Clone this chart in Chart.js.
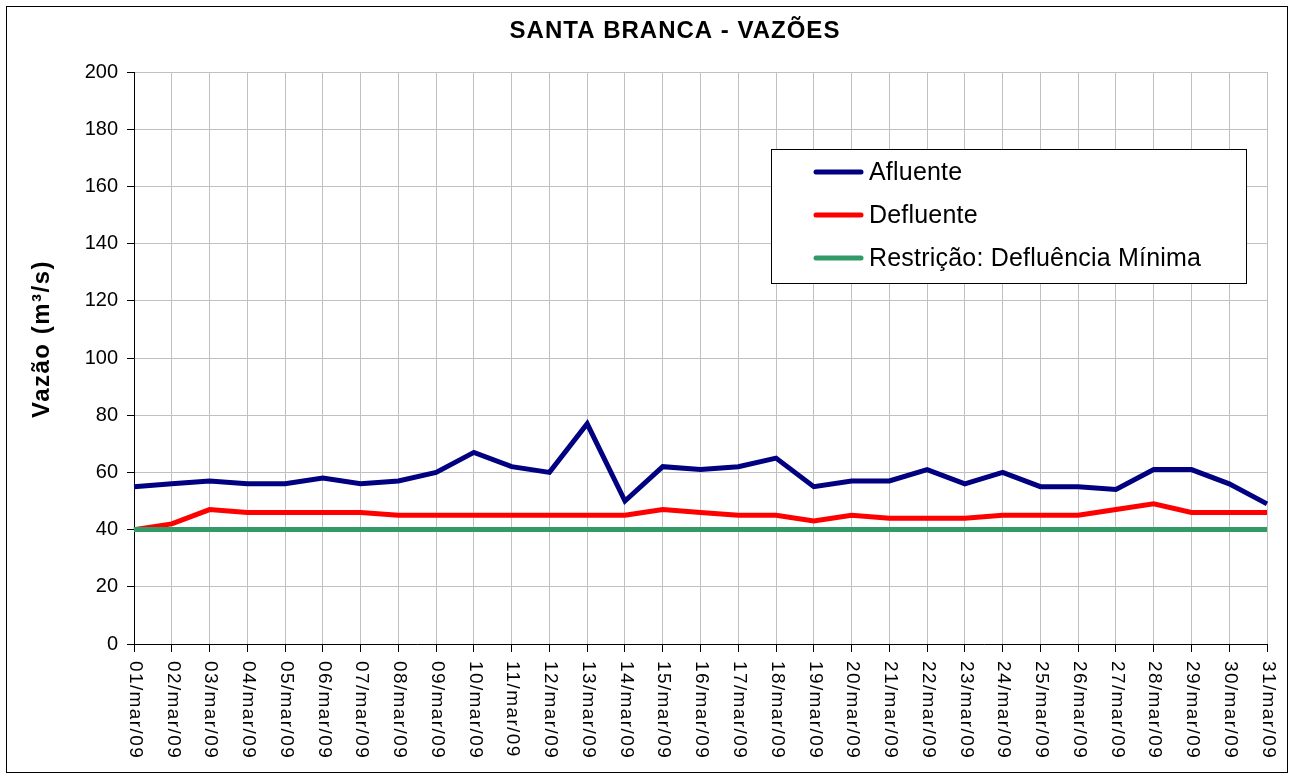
<!DOCTYPE html>
<html>
<head>
<meta charset="utf-8">
<script src="https://cdn.jsdelivr.net/npm/chart.js@4.4.0/dist/chart.umd.min.js"></script>
<style>
html,body{margin:0;padding:0;background:#fff;}
#wrap{position:relative;width:1292px;height:778px;}
</style>
</head>
<body>
<div id="wrap"><canvas id="c" width="1292" height="778"></canvas></div>
<script>
const categories = ["01/mar/09","02/mar/09","03/mar/09","04/mar/09","05/mar/09","06/mar/09","07/mar/09","08/mar/09","09/mar/09","10/mar/09","11/mar/09","12/mar/09","13/mar/09","14/mar/09","15/mar/09","16/mar/09","17/mar/09","18/mar/09","19/mar/09","20/mar/09","21/mar/09","22/mar/09","23/mar/09","24/mar/09","25/mar/09","26/mar/09","27/mar/09","28/mar/09","29/mar/09","30/mar/09","31/mar/09"];
const afluente = [55,56,57,56,56,58,56,57,60,67,62,60,77,50,62,61,62,65,55,57,57,61,56,60,55,55,54,61,61,56,49];
const defluente = [40,42,47,46,46,46,46,45,45,45,45,45,45,45,47,46,45,45,43,45,44,44,44,45,45,45,47,49,46,46,46];
const restricao = [40,40,40,40,40,40,40,40,40,40,40,40,40,40,40,40,40,40,40,40,40,40,40,40,40,40,40,40,40,40,40];
const yTicks = [0,20,40,60,80,100,120,140,160,180,200];
const titleText = "SANTA BRANCA - VAZÕES";
const yTitle = "Vazão (m³/s)";
const seriesLabels = ["Afluente","Defluente","Restrição: Defluência Mínima"];
const seriesColors = ["#000080","#FF0000","#339966"];

const FONT = "'Liberation Sans', Arial, sans-serif";

const framePlugin = {
  id: 'frame',
  beforeDraw(chart) {
    const ctx = chart.ctx;
    ctx.save();
    ctx.fillStyle = '#fff';
    ctx.fillRect(0,0,chart.width,chart.height);
    ctx.strokeStyle = '#000';
    ctx.lineWidth = 1;
    ctx.strokeRect(6.5,6.5,1281,766);
    ctx.restore();
  },
  afterDraw(chart) {
    const ctx = chart.ctx;
    const xs = chart.scales.x;
    const ys = chart.scales.y;
    ctx.save();
    // title
    ctx.fillStyle = '#000';
    ctx.font = "bold 24px " + FONT;
    ctx.letterSpacing = '1px';
    ctx.textAlign = 'center';
    ctx.textBaseline = 'middle';
    ctx.fillText(titleText, 675, 31);
    // y title
    ctx.save();
    ctx.font = "bold 24px " + FONT;
    ctx.letterSpacing = '1.5px';
    ctx.translate(42, 339);
    ctx.rotate(-Math.PI/2);
    ctx.fillText(yTitle, 0, 0);
    ctx.restore();
    // x labels rotated clockwise
    ctx.font = "19px " + FONT;
    ctx.letterSpacing = '1.4px';
    ctx.textAlign = 'left';
    ctx.textBaseline = 'middle';
    categories.forEach((lab, i) => {
      const x = xs.getPixelForTick(i);
      ctx.save();
      ctx.translate(x + 1, ys.bottom + 17);
      ctx.rotate(Math.PI/2);
      ctx.fillText(lab, 0, 0);
      ctx.restore();
    });
    // legend
    ctx.letterSpacing = '0.2px';
    const lx = 771, ly = 149, lw = 475, lh = 134;
    ctx.fillStyle = '#fff';
    ctx.fillRect(lx, ly, lw, lh);
    ctx.strokeStyle = '#000';
    ctx.lineWidth = 1;
    ctx.strokeRect(lx + 0.5, ly + 0.5, lw, lh);
    ctx.font = "25px " + FONT;
    ctx.textBaseline = 'middle';
    ctx.textAlign = 'left';
    chart.data.datasets.forEach((ds, i) => {
      const yy = 172 + i * 43;
      ctx.strokeStyle = ds.borderColor;
      ctx.lineWidth = 5;
      ctx.lineCap = 'round';
      ctx.beginPath();
      ctx.moveTo(816, yy);
      ctx.lineTo(861, yy);
      ctx.stroke();
      ctx.fillStyle = '#000';
      ctx.fillText(ds.label, 869, yy + 1);
    });
    ctx.restore();
  }
};

new Chart(document.getElementById('c'), {
  type: 'line',
  data: {
    labels: categories,
    datasets: [
      {label: seriesLabels[0], data: afluente, borderColor: seriesColors[0], backgroundColor: seriesColors[0], borderWidth: 5, pointRadius: 0, tension: 0, order: 3},
      {label: seriesLabels[1], data: defluente, borderColor: seriesColors[1], backgroundColor: seriesColors[1], borderWidth: 5, pointRadius: 0, tension: 0, order: 2},
      {label: seriesLabels[2], data: restricao, borderColor: seriesColors[2], backgroundColor: seriesColors[2], borderWidth: 5, pointRadius: 0, tension: 0, order: 1}
    ]
  },
  options: {
    responsive: false,
    animation: false,
    devicePixelRatio: 1,
    layout: {padding: {left: 0, right: 25, top: 72, bottom: 0}},
    plugins: {
      legend: {display: false},
      tooltip: {enabled: false},
      title: {display: false}
    },
    scales: {
      x: {
        type: 'category',
        offset: false,
        grid: {color: '#c0c0c0', lineWidth: 1, tickColor: '#000', tickLength: 8, drawTicks: true},
        border: {color: '#000', width: 1},
        ticks: {display: false, autoSkip: false},
        afterFit(s) { s.height = 778 - 644; }
      },
      y: {
        min: 0, max: 200,
        afterBuildTicks(s) { s.ticks = yTicks.map(v => ({value: v})); },
        grid: {color: '#c0c0c0', lineWidth: 1, tickColor: '#000', tickLength: 7},
        border: {color: '#000', width: 1},
        ticks: {color: '#000', font: {family: FONT, size: 20}, padding: 9},
        title: {display: false},
        afterFit(s) { s.width = 134; }
      }
    }
  },
  plugins: [framePlugin]
});
</script>
</body>
</html>
